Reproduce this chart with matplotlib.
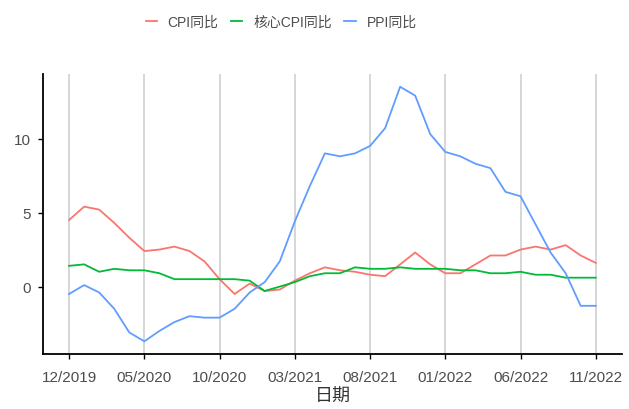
import numpy as np
import pandas as pd
import matplotlib
matplotlib.use('Agg')
import matplotlib.pyplot as plt

plt.rcParams['font.family'] = ['Liberation Sans', 'Noto Sans CJK SC', 'DejaVu Sans']

dates = pd.date_range('2019-12-01', '2022-11-01', freq='MS')

cpi = [4.5, 5.4, 5.2, 4.3, 3.3, 2.4, 2.5, 2.7, 2.4, 1.7, 0.5, -0.5,
       0.2, -0.3, -0.2, 0.4, 0.9, 1.3, 1.1, 1.0, 0.8, 0.7, 1.5, 2.3,
       1.5, 0.9, 0.9, 1.5, 2.1, 2.1, 2.5, 2.7, 2.5, 2.8, 2.1, 1.6]
core_cpi = [1.4, 1.5, 1.0, 1.2, 1.1, 1.1, 0.9, 0.5, 0.5, 0.5, 0.5, 0.5,
            0.4, -0.3, 0.0, 0.3, 0.7, 0.9, 0.9, 1.3, 1.2, 1.2, 1.3, 1.2,
            1.2, 1.2, 1.1, 1.1, 0.9, 0.9, 1.0, 0.8, 0.8, 0.6, 0.6, 0.6]
ppi = [-0.5, 0.1, -0.4, -1.5, -3.1, -3.7, -3.0, -2.4, -2.0, -2.1, -2.1, -1.5,
       -0.4, 0.3, 1.7, 4.4, 6.8, 9.0, 8.8, 9.0, 9.5, 10.7, 13.5, 12.9,
       10.3, 9.1, 8.8, 8.3, 8.0, 6.4, 6.1, 4.2, 2.3, 0.9, -1.3, -1.3]

labels = ['CPI同比', '核心CPI同比', 'PPI同比']
colors = ['#F8766D', '#00BA38', '#619CFF']

fig = plt.figure(figsize=(6.29, 4.10), dpi=100)
ax = fig.add_axes([0.068, 0.134, 0.921, 0.683])

x = np.arange(len(dates))
for vals, lab, col in zip([cpi, core_cpi, ppi], labels, colors):
    ax.plot(x, vals, color=col, lw=1.3, label=lab)

tick_idx = x[::5]
ax.set_xticks(tick_idx)
ax.set_xticklabels([dates[i].strftime('%m/%Y') for i in tick_idx])
for t in tick_idx:
    ax.axvline(t, color='#CBCBCB', lw=1.1, zorder=0)

span = x[-1] - x[0]
ax.set_xlim(x[0] - 0.05 * span, x[-1] + 0.05 * span)
allv = np.concatenate([cpi, core_cpi, ppi])
yr = allv.max() - allv.min()
ax.set_ylim(allv.min() - 0.05 * yr, allv.max() + 0.05 * yr)
ax.set_yticks([0, 5, 10])

for s in ['top', 'right']:
    ax.spines[s].set_visible(False)
for s in ['left', 'bottom']:
    ax.spines[s].set_linewidth(1.3)
ax.tick_params(axis='both', labelsize=11, colors='black', labelcolor='#4D4D4D',
               length=3.5, width=1)
ax.tick_params(axis='x', pad=8)
ax.tick_params(axis='y', pad=5)
ax.set_xlabel('日期', fontsize=13, color='#333333', labelpad=3)

fig.legend(loc='center', bbox_to_anchor=(0.447, 0.945), ncol=3, frameon=False,
           fontsize=10, handlelength=0.8, handletextpad=0.8, columnspacing=0.9,
           labelcolor='#4D4D4D')

fig.savefig('out.png', dpi=100)
